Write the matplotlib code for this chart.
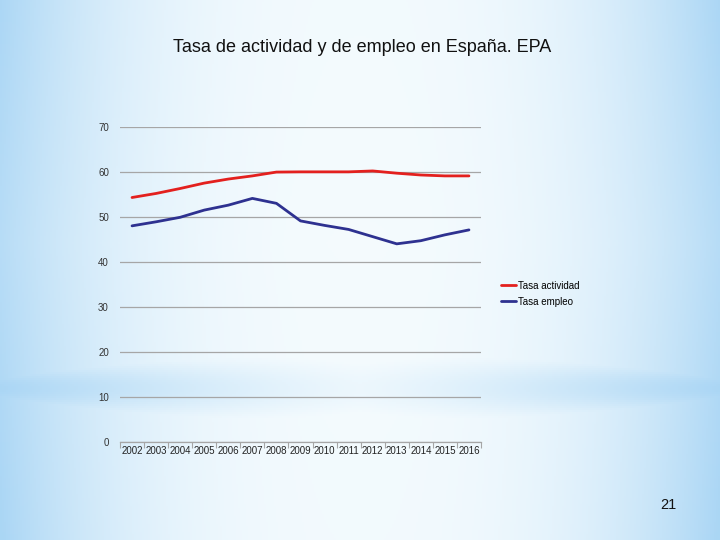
import numpy as np
import matplotlib
matplotlib.use("Agg")
import matplotlib.pyplot as plt

years = ["2002", "2003", "2004", "2005", "2006", "2007", "2008", "2009",
         "2010", "2011", "2012", "2013", "2014", "2015", "2016"]
tasa_actividad = [54.4, 55.3, 56.4, 57.6, 58.5, 59.2, 60.05, 60.1, 60.1,
                  60.1, 60.3, 59.8, 59.4, 59.2, 59.2]
tasa_empleo = [48.1, 49.0, 50.0, 51.6, 52.7, 54.2, 53.1, 49.2, 48.2,
               47.3, 45.7, 44.1, 44.8, 46.1, 47.2]
y_ticks = [0, 10, 20, 30, 40, 50, 60, 70]
title = "Tasa de actividad y de empleo en España. EPA"
page_number = "21"

plt.rcParams['font.family'] = ['Liberation Sans', 'DejaVu Sans']

fig = plt.figure(figsize=(7.2, 5.4), dpi=100)

# background gradient
bg = fig.add_axes([0, 0, 1, 1], zorder=-10)
H, W = 270, 360
yy, xx = np.mgrid[0:1:H*1j, 0:1:W*1j]
hx = np.abs(xx - 0.5) * 2
t = 0.12 + 0.88 * hx ** 2.6
t = t * (0.85 + 0.15 * np.abs(yy - 0.45) * 2)
band = np.exp(-((yy - 0.72) / 0.06) ** 2) * (0.2 + 0.8 * hx ** 1.3)
t = np.clip(np.maximum(t, band), 0, 1)
white = np.array([0.99, 1.0, 1.0])
blue = np.array([0.67, 0.84, 0.96])
img = white[None, None, :] * (1 - t[..., None]) + blue[None, None, :] * t[..., None]
bg.imshow(img, aspect='auto', extent=[0, 1, 0, 1], origin='upper')
bg.axis('off')

ax = fig.add_axes([120/720, 1 - 442.3/540, (481-120)/720, (442.3-127.3)/540])
ax.patch.set_alpha(0)
x = np.arange(len(years))
ax.plot(x, tasa_actividad, color='#e3201e', lw=2, label='Tasa actividad', solid_capstyle='round')
ax.plot(x, tasa_empleo, color='#2e3190', lw=2, label='Tasa empleo', solid_capstyle='round')

ax.set_xlim(-0.5, len(years) - 0.5)
ax.set_ylim(0, 70)
ax.set_yticks(y_ticks)
ax.set_yticklabels([str(v) for v in y_ticks], fontsize=7, color='#333333')
ax.tick_params(axis='y', length=0, pad=8)
ax.grid(axis='y', color='#a6a6a6', lw=0.9)
ax.set_axisbelow(True)
ax.set_xticks(x)
ax.set_xticklabels(years, fontsize=7, color='#222222')
ax.tick_params(axis='x', which='major', length=0, pad=3)
ax.set_xticks(np.arange(-0.5, len(years)), minor=True)
ax.tick_params(axis='x', which='minor', length=4, color='#a6a6a6', width=0.8)
for s in ['top', 'right', 'left']:
    ax.spines[s].set_visible(False)
ax.spines['bottom'].set_color('#a6a6a6')
ax.spines['bottom'].set_linewidth(0.9)

ax.legend(loc='center left', bbox_to_anchor=(1.03, 0.472), frameon=False,
          fontsize=7, handlelength=1.6, handletextpad=0.2, labelspacing=0.6)

fig.text(362/720, 1 - 47/540, title, ha='center', va='center', fontsize=13, color='#111111')
fig.text(668/720, 1 - 505/540, page_number, ha='center', va='center', fontsize=10.5, color='#111111')

fig.savefig('out.png', dpi=100)
